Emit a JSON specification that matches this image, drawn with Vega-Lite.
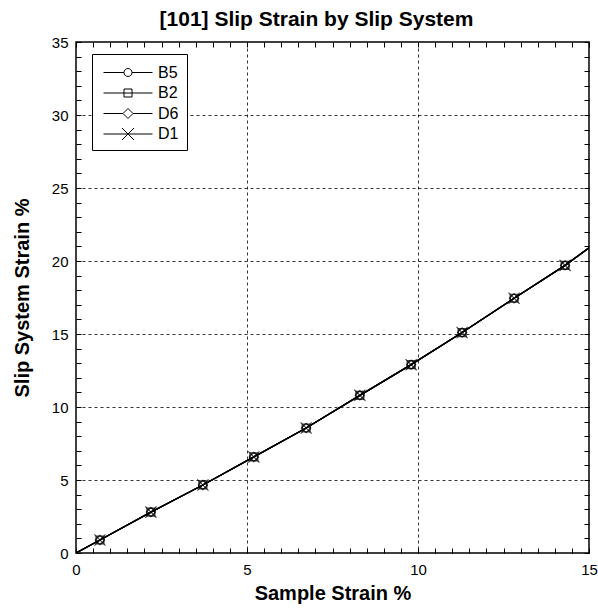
{
  "$schema": "https://vega.github.io/schema/vega-lite/v6.json",
  "width": 513,
  "height": 511,
  "autosize": "none",
  "padding": {"left": 76, "top": 42, "right": 9, "bottom": 59},
  "background": "white",
  "title": {
    "text": "[101] Slip Strain by Slip System",
    "font": "Liberation Sans",
    "fontSize": 21,
    "fontWeight": "bold",
    "color": "black",
    "offset": 5,
    "dx": -16
  },
  "config": {
    "view": {"stroke": "black", "strokeWidth": 1.5},
    "axis": {
      "labelFont": "Liberation Sans",
      "labelFontSize": 15,
      "labelColor": "black",
      "titleFont": "Liberation Sans",
      "titleFontSize": 20,
      "titleFontWeight": "bold",
      "titleColor": "black",
      "domain": false,
      "tickColor": "black",
      "tickWidth": 1,
      "tickSize": -5,
      "gridColor": "black",
      "gridDash": [3, 3],
      "gridWidth": 0.8,
      "labelOverlap": false,
      "labelFlush": false,
      "format": "d"
    }
  },
  "datasets": {
    "curve": [
      {"series": "B5", "x": 0, "y": 0}, {"series": "B5", "x": 0.7, "y": 0.89}, {"series": "B5", "x": 2.19, "y": 2.8}, {"series": "B5", "x": 3.71, "y": 4.66}, {"series": "B5", "x": 5.2, "y": 6.58}, {"series": "B5", "x": 6.73, "y": 8.56}, {"series": "B5", "x": 8.3, "y": 10.8}, {"series": "B5", "x": 9.8, "y": 12.9}, {"series": "B5", "x": 11.29, "y": 15.1}, {"series": "B5", "x": 12.81, "y": 17.45}, {"series": "B5", "x": 14.3, "y": 19.7}, {"series": "B5", "x": 15, "y": 20.9},
      {"series": "B2", "x": 0, "y": 0}, {"series": "B2", "x": 0.7, "y": 0.89}, {"series": "B2", "x": 2.19, "y": 2.8}, {"series": "B2", "x": 3.71, "y": 4.66}, {"series": "B2", "x": 5.2, "y": 6.58}, {"series": "B2", "x": 6.73, "y": 8.56}, {"series": "B2", "x": 8.3, "y": 10.8}, {"series": "B2", "x": 9.8, "y": 12.9}, {"series": "B2", "x": 11.29, "y": 15.1}, {"series": "B2", "x": 12.81, "y": 17.45}, {"series": "B2", "x": 14.3, "y": 19.7}, {"series": "B2", "x": 15, "y": 20.9},
      {"series": "D6", "x": 0, "y": 0}, {"series": "D6", "x": 0.7, "y": 0.89}, {"series": "D6", "x": 2.19, "y": 2.8}, {"series": "D6", "x": 3.71, "y": 4.66}, {"series": "D6", "x": 5.2, "y": 6.58}, {"series": "D6", "x": 6.73, "y": 8.56}, {"series": "D6", "x": 8.3, "y": 10.8}, {"series": "D6", "x": 9.8, "y": 12.9}, {"series": "D6", "x": 11.29, "y": 15.1}, {"series": "D6", "x": 12.81, "y": 17.45}, {"series": "D6", "x": 14.3, "y": 19.7}, {"series": "D6", "x": 15, "y": 20.9},
      {"series": "D1", "x": 0, "y": 0}, {"series": "D1", "x": 0.7, "y": 0.89}, {"series": "D1", "x": 2.19, "y": 2.8}, {"series": "D1", "x": 3.71, "y": 4.66}, {"series": "D1", "x": 5.2, "y": 6.58}, {"series": "D1", "x": 6.73, "y": 8.56}, {"series": "D1", "x": 8.3, "y": 10.8}, {"series": "D1", "x": 9.8, "y": 12.9}, {"series": "D1", "x": 11.29, "y": 15.1}, {"series": "D1", "x": 12.81, "y": 17.45}, {"series": "D1", "x": 14.3, "y": 19.7}, {"series": "D1", "x": 15, "y": 20.9}
    ],
    "markers": [
      {"series": "B5", "x": 0.7, "y": 0.89}, {"series": "B5", "x": 2.19, "y": 2.8}, {"series": "B5", "x": 3.71, "y": 4.66}, {"series": "B5", "x": 5.2, "y": 6.58}, {"series": "B5", "x": 6.73, "y": 8.56}, {"series": "B5", "x": 8.3, "y": 10.8}, {"series": "B5", "x": 9.8, "y": 12.9}, {"series": "B5", "x": 11.29, "y": 15.1}, {"series": "B5", "x": 12.81, "y": 17.45}, {"series": "B5", "x": 14.3, "y": 19.7},
      {"series": "B2", "x": 0.7, "y": 0.89}, {"series": "B2", "x": 2.19, "y": 2.8}, {"series": "B2", "x": 3.71, "y": 4.66}, {"series": "B2", "x": 5.2, "y": 6.58}, {"series": "B2", "x": 6.73, "y": 8.56}, {"series": "B2", "x": 8.3, "y": 10.8}, {"series": "B2", "x": 9.8, "y": 12.9}, {"series": "B2", "x": 11.29, "y": 15.1}, {"series": "B2", "x": 12.81, "y": 17.45}, {"series": "B2", "x": 14.3, "y": 19.7},
      {"series": "D6", "x": 0.7, "y": 0.89}, {"series": "D6", "x": 2.19, "y": 2.8}, {"series": "D6", "x": 3.71, "y": 4.66}, {"series": "D6", "x": 5.2, "y": 6.58}, {"series": "D6", "x": 6.73, "y": 8.56}, {"series": "D6", "x": 8.3, "y": 10.8}, {"series": "D6", "x": 9.8, "y": 12.9}, {"series": "D6", "x": 11.29, "y": 15.1}, {"series": "D6", "x": 12.81, "y": 17.45}, {"series": "D6", "x": 14.3, "y": 19.7},
      {"series": "D1", "x": 0.7, "y": 0.89}, {"series": "D1", "x": 2.19, "y": 2.8}, {"series": "D1", "x": 3.71, "y": 4.66}, {"series": "D1", "x": 5.2, "y": 6.58}, {"series": "D1", "x": 6.73, "y": 8.56}, {"series": "D1", "x": 8.3, "y": 10.8}, {"series": "D1", "x": 9.8, "y": 12.9}, {"series": "D1", "x": 11.29, "y": 15.1}, {"series": "D1", "x": 12.81, "y": 17.45}, {"series": "D1", "x": 14.3, "y": 19.7}
    ]
  },
  "resolve": {
    "axis": {"x": "independent", "y": "independent"},
    "scale": {"shape": "independent"},
    "legend": {"shape": "independent"}
  },
  "layer": [
    {
      "data": {"name": "curve"},
      "mark": {"type": "line", "color": "black", "strokeWidth": 1.3, "clip": true},
      "encoding": {
        "x": {
          "field": "x", "type": "quantitative",
          "scale": {"domain": [0, 15], "nice": false, "zero": false},
          "axis": {
            "orient": "bottom",
            "title": "Sample Strain %",
            "values": [0, 0.5, 1, 1.5, 2, 2.5, 3, 3.5, 4, 4.5, 5, 5.5, 6, 6.5, 7, 7.5, 8, 8.5, 9, 9.5, 10, 10.5, 11, 11.5, 12, 12.5, 13, 13.5, 14, 14.5, 15],
            "labelExpr": "datum.value % 5 === 0 ? datum.label : ''",
            "labelPadding": 14,
            "labelBaseline": "top",
            "titlePadding": 6,
            "gridOpacity": {"condition": {"test": "datum.value % 5 === 0 && datum.value > 0 && datum.value < 15", "value": 1}, "value": 0}
          }
        },
        "y": {
          "field": "y", "type": "quantitative",
          "scale": {"domain": [0, 35], "nice": false, "zero": false},
          "axis": {
            "orient": "left",
            "title": "Slip System Strain %",
            "values": [0, 1, 2, 3, 4, 5, 6, 7, 8, 9, 10, 11, 12, 13, 14, 15, 16, 17, 18, 19, 20, 21, 22, 23, 24, 25, 26, 27, 28, 29, 30, 31, 32, 33, 34, 35],
            "labelExpr": "datum.value % 5 === 0 ? datum.label : ''",
            "labelPadding": 13,
            "titlePadding": 19,
            "gridOpacity": {"condition": {"test": "datum.value % 5 === 0 && datum.value > 0 && datum.value < 35", "value": 1}, "value": 0}
          }
        },
        "detail": {"field": "series", "type": "nominal"}
      }
    },
    {
      "data": {"name": "markers"},
      "mark": {"type": "point", "color": "black", "filled": false, "strokeWidth": 1.2, "size": 64},
      "encoding": {
        "x": {
          "field": "x", "type": "quantitative",
          "axis": {
            "orient": "top", "title": null, "labels": false, "grid": false,
            "values": [0, 0.5, 1, 1.5, 2, 2.5, 3, 3.5, 4, 4.5, 5, 5.5, 6, 6.5, 7, 7.5, 8, 8.5, 9, 9.5, 10, 10.5, 11, 11.5, 12, 12.5, 13, 13.5, 14, 14.5, 15]
          }
        },
        "y": {
          "field": "y", "type": "quantitative",
          "axis": {
            "orient": "right", "title": null, "labels": false, "grid": false,
            "values": [0, 1, 2, 3, 4, 5, 6, 7, 8, 9, 10, 11, 12, 13, 14, 15, 16, 17, 18, 19, 20, 21, 22, 23, 24, 25, 26, 27, 28, 29, 30, 31, 32, 33, 34, 35]
          }
        },
        "shape": {
          "field": "series", "type": "nominal",
          "scale": {
            "domain": ["B5", "B2", "D6", "D1"],
            "range": ["circle", "square", "M0,-1.15L1.15,0L0,1.15L-1.15,0Z", "M-1.4,-1.4L1.4,1.4M-1.4,1.4L1.4,-1.4"]
          },
          "legend": null
        }
      }
    },
    {
      "data": {"name": "markers"},
      "mark": {"type": "point", "color": "black", "filled": false, "opacity": 0},
      "encoding": {
        "x": {"field": "x", "type": "quantitative", "axis": null},
        "y": {"field": "y", "type": "quantitative", "axis": null},
        "shape": {
          "field": "series", "type": "nominal",
          "scale": {
            "domain": ["B5", "B2", "D6", "D1"],
            "range": [
              "M-0.7,0L1.35,0M2.15,0L4.2,0M2.15,0A0.4,0.4 0 1,1 1.35,0A0.4,0.4 0 1,1 2.15,0",
              "M-0.7,0L4.2,0M1.35,-0.4L2.15,-0.4L2.15,0.4L1.35,0.4Z",
              "M-0.7,0L1.25,0M2.25,0L4.2,0M1.75,-0.5L2.25,0L1.75,0.5L1.25,0Z",
              "M-0.7,0L4.2,0M1.15,-0.6L2.35,0.6M1.15,0.6L2.35,-0.6"
            ]
          },
          "legend": {
            "title": null,
            "orient": "none",
            "legendX": 16,
            "legendY": 12,
            "strokeColor": "black",
            "fillColor": "white",
            "padding": 8,
            "symbolSize": 400,
            "symbolStrokeColor": "black",
            "symbolStrokeWidth": 1,
            "symbolFillColor": "transparent",
            "symbolOpacity": 1,
            "labelFont": "Liberation Sans",
            "labelFontSize": 16,
            "labelColor": "black",
            "labelOffset": 37,
            "rowPadding": 1.5,
            "encode": {"legend": {"update": {"strokeWidth": {"value": 2}}}}
          }
        }
      }
    }
  ]
}
